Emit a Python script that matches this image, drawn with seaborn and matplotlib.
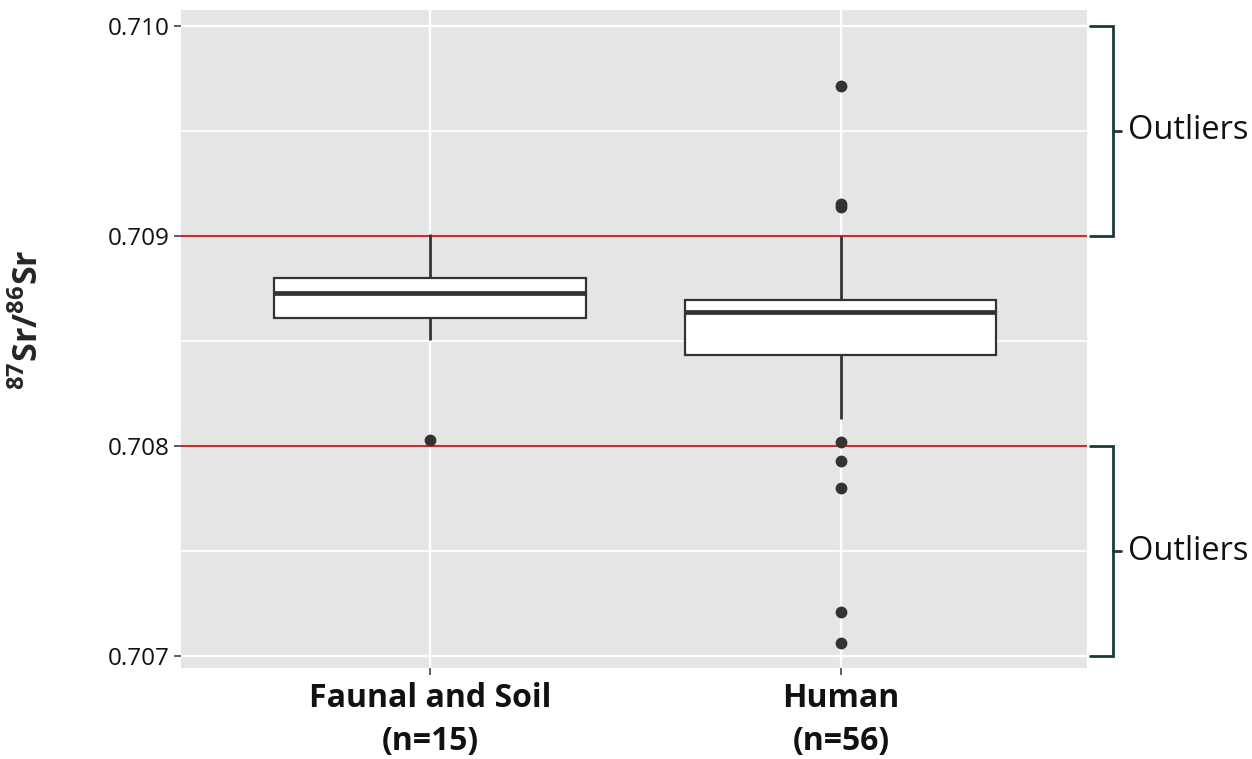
import numpy as np
import pandas as pd
import matplotlib
matplotlib.use("Agg")
import matplotlib.pyplot as plt
import matplotlib.transforms as mtransforms
import seaborn as sns

# 87Sr/86Sr ratios per sample group (sorted)
faunal_soil = [
    0.70803, 0.708505, 0.70856, 0.70860, 0.70862, 0.70866, 0.70870, 0.70873,
    0.70876, 0.70878, 0.70879, 0.70881, 0.70886, 0.70893, 0.70901,
]
human = [
    0.70706, 0.70721, 0.70780, 0.70793, 0.70802, 0.70813, 0.70822, 0.70828,
    0.70832, 0.70835, 0.70837, 0.70839, 0.70841, 0.70843, 0.708434, 0.70845,
    0.70847, 0.70849, 0.70851, 0.70853, 0.70854, 0.70855, 0.70857, 0.70858,
    0.70859, 0.70860, 0.70862, 0.70863, 0.70865, 0.70866, 0.70866, 0.70867,
    0.70867, 0.70867, 0.70868, 0.70868, 0.70868, 0.70868, 0.70869, 0.70869,
    0.70869, 0.70869, 0.70871, 0.70873, 0.70876, 0.70879, 0.70882, 0.70885,
    0.70888, 0.70892, 0.70895, 0.70898, 0.70900, 0.70914, 0.70915, 0.709714,
]
group_labels = ["Faunal and Soil\n(n=15)", "Human\n(n=56)"]

# local bioavailable range limits
range_limits = [0.708, 0.709]
# bracketed outlier zones
outlier_zones = [(0.709, 0.710), (0.707, 0.708)]

y_ticks = [0.707, 0.708, 0.709, 0.710]
y_minor = [0.7075, 0.7085, 0.7095]
y_tick_labels = ["0.707", "0.708", "0.709", "0.710"]

df = pd.DataFrame({
    "group": [group_labels[0]] * len(faunal_soil) + [group_labels[1]] * len(human),
    "ratio": faunal_soil + human,
})

sns.set_style("white")
plt.rcParams["font.family"] = ["Open Sans", "DejaVu Sans"]
plt.rcParams["mathtext.fontset"] = "custom"
plt.rcParams["mathtext.bf"] = "Open Sans:bold"
plt.rcParams["mathtext.rm"] = "Open Sans"

fig = plt.figure(figsize=(12.52, 7.59), dpi=100)
ax = fig.add_axes([181 / 1252, 1 - 668 / 759, (1087 - 181) / 1252, (668 - 10) / 759])
ax.set_facecolor("#E5E5E5")

dark = "#333333"
sns.boxplot(
    data=df, x="group", y="ratio", ax=ax,
    color="white", saturation=1, linecolor=dark, linewidth=1.6,
    width=0.757, whis=1.5, showcaps=False,
    whiskerprops={"linewidth": 2.0},
    medianprops={"linewidth": 3.4, "color": dark},
    flierprops={"marker": "o", "markersize": 8.5, "markerfacecolor": dark,
                "markeredgecolor": dark, "markeredgewidth": 0},
    zorder=3,
)

# grid
for v in y_ticks:
    ax.axhline(v, color="white", lw=1.7, zorder=0.5)
for v in y_minor:
    ax.axhline(v, color="white", lw=1.3, zorder=0.5)
for xv in range(len(group_labels)):
    ax.axvline(xv, color="white", lw=1.7, zorder=0.5)

# range limit lines
for v in range_limits:
    ax.axhline(v, color="#D7262B", lw=1.5, zorder=1)

ax.set_xlim(-0.606, 1.599)
ax.set_ylim(0.706943, 0.710076)
ax.set_yticks(y_ticks)
ax.set_yticklabels(y_tick_labels, fontsize=17.5, color="#111111")
ax.set_xticks(range(len(group_labels)))
ax.set_xticklabels(group_labels, fontsize=23, fontweight="bold", color="#111111",
                   linespacing=1.4)
ax.tick_params(axis="both", which="major", length=5, width=1.1, color=dark,
               left=True, bottom=True, pad=3)
ax.tick_params(axis="x", pad=5)
for s in ax.spines.values():
    s.set_visible(False)
ax.set_xlabel("")
ax.set_ylabel(r"$\mathbf{^{87}Sr/^{86}Sr}$", fontsize=24.5)
ax.yaxis.set_label_coords(-0.149, 0.529)

# brackets marking the outlier zones
trans = mtransforms.blended_transform_factory(ax.transAxes, ax.transData)
bcol = "#1B3A3A"
x0, x1, x2 = 1.003, 1.029, 1.037
for lo, hi in outlier_zones:
    ax.plot([x0, x1, x1, x0], [hi, hi, lo, lo], color=bcol, lw=2,
            transform=trans, clip_on=False, solid_joinstyle="miter")
    mid = (lo + hi) / 2
    ax.plot([x1, x2], [mid, mid], color=bcol, lw=2, transform=trans, clip_on=False)
    ax.text(x2 + 0.008, mid, "Outliers", transform=trans, fontsize=23.5,
            va="center", ha="left", color="#111111")

fig.savefig("out.png", dpi=100)
